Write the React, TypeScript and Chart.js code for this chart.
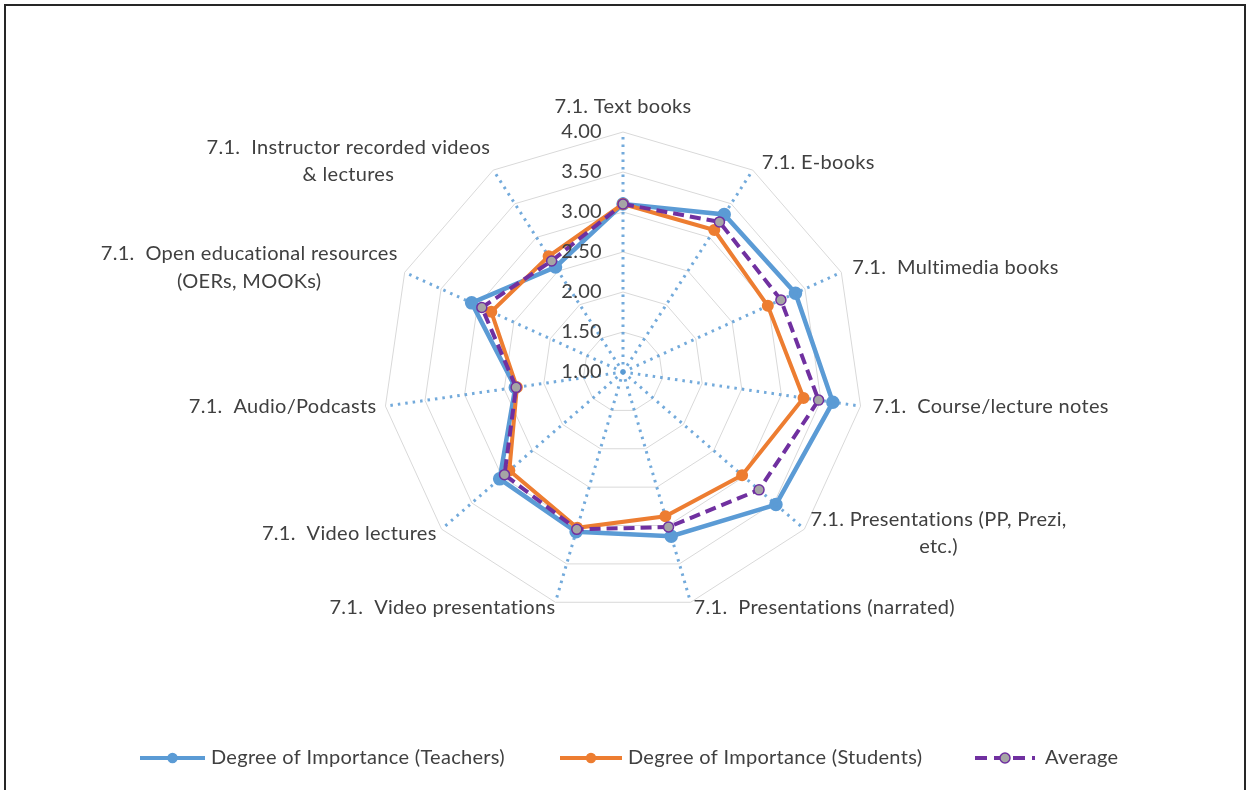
import React, { useEffect, useRef } from "react";
import { Chart, registerables } from "chart.js";

Chart.register(...registerables);

// ---------- data ----------
const categories: string[][] = [
  ["7.1. Text books"],
  ["7.1. E-books"],
  ["7.1.  Multimedia books"],
  ["7.1.  Course/lecture notes"],
  ["7.1. Presentations (PP, Prezi,", "etc.)"],
  ["7.1.  Presentations (narrated)"],
  ["7.1.  Video presentations"],
  ["7.1.  Video lectures"],
  ["7.1.  Audio/Podcasts"],
  ["7.1.  Open educational resources", "(OERs, MOOKs)"],
  ["7.1.  Instructor recorded videos", "& lectures"],
];
const teachers = [3.1, 3.34, 3.37, 3.65, 3.53, 3.14, 3.08, 3.04, 2.36, 3.08, 2.56];
const students = [3.1, 3.11, 2.99, 3.28, 2.97, 2.88, 3.03, 2.88, 2.34, 2.81, 2.72];
const average = [3.1, 3.23, 3.17, 3.47, 3.25, 3.02, 3.05, 2.96, 2.35, 2.94, 2.65];
const tickValues = [1.0, 1.5, 2.0, 2.5, 3.0, 3.5, 4.0];
const seriesNames = [
  "Degree of Importance (Teachers)",
  "Degree of Importance (Students)",
  "Average",
];

// ---------- layout / style ----------
const FONT = "20px Lato, 'Open Sans', sans-serif";
const LETTER_SPACING = "0.3px";
const TEXT = "#404040";
const BLUE = "#5B9BD5";
const ORANGE = "#ED7D31";
const PURPLE = "#7030A0";
const GREY = "#A5A5A5";
// nudges of each category label block relative to its outer vertex: [dx, dy]
const labelNudge: [number, number][] = [
  [0, -25], [9, -8], [11, -5], [12, 0], [6, 4], [3, 5],
  [0, 5], [-5, 4], [-9, 0], [-7, -5], [-3, -9],
];
const LINE_H = 27.5;

const labelsPlugin = {
  id: "customLabels",
  afterDraw(chart: any) {
    const ctx = chart.ctx;
    const scale = chart.scales.r;
    ctx.save();
    ctx.font = FONT;
    (ctx as any).letterSpacing = LETTER_SPACING;
    ctx.fillStyle = TEXT;
    ctx.textBaseline = "middle";
    // tick labels along the first spoke
    tickValues.forEach((v) => {
      const d = scale.getDistanceFromCenterForValue(v);
      const p = scale.getPointPosition(0, d);
      ctx.textAlign = "right";
      ctx.fillText(v.toFixed(2), p.x - 21, p.y);
    });
    // category labels
    const outer = scale.getDistanceFromCenterForValue(scale.max);
    categories.forEach((lines, i) => {
      const p = scale.getPointPosition(i, outer);
      const ang = (i * 2 * Math.PI) / categories.length;
      const s = Math.sin(ang);
      const widths = lines.map((l) => ctx.measureText(l).width);
      const bw = Math.max(...widths);
      let left: number;
      if (Math.abs(s) < 0.1) left = p.x + labelNudge[i][0] - bw / 2;
      else if (s > 0) left = p.x + labelNudge[i][0];
      else left = p.x + labelNudge[i][0] - bw;
      const cy = p.y + labelNudge[i][1];
      const top = cy - ((lines.length - 1) * LINE_H) / 2;
      lines.forEach((l, k) => {
        ctx.textAlign = "center";
        ctx.fillText(l, left + bw / 2, top + k * LINE_H);
      });
    });
    // legend
    const ly = 752;
    const items = [
      { x0: 134, x1: 199, tx: 205, color: BLUE, dash: [] as number[], fill: BLUE, stroke: BLUE, r: 4.5 },
      { x0: 554, x1: 616, tx: 622, color: ORANGE, dash: [] as number[], fill: ORANGE, stroke: ORANGE, r: 4.5 },
      { x0: 969, x1: 1029, tx: 1039, color: PURPLE, dash: [12, 7], fill: GREY, stroke: PURPLE, r: 5 },
    ];
    items.forEach((it, i) => {
      ctx.beginPath();
      ctx.setLineDash(it.dash);
      ctx.strokeStyle = it.color;
      ctx.lineWidth = 4;
      ctx.moveTo(it.x0, ly);
      ctx.lineTo(it.x1, ly);
      ctx.stroke();
      ctx.setLineDash([]);
      ctx.beginPath();
      ctx.arc((it.x0 + it.x1) / 2, ly, it.r, 0, Math.PI * 2);
      ctx.fillStyle = it.fill;
      ctx.fill();
      ctx.lineWidth = 1.5;
      ctx.strokeStyle = it.stroke;
      ctx.stroke();
      ctx.fillStyle = TEXT;
      ctx.textAlign = "left";
      ctx.fillText(seriesNames[i], it.tx, ly);
    });
    ctx.restore();
  },
};

export default function App() {
  const ref = useRef<HTMLCanvasElement>(null);
  useEffect(() => {
    if (!ref.current) return;
    const chart = new Chart(ref.current, {
      type: "radar",
      data: {
        labels: categories.map((c) => c.join(" ")),
        datasets: [
          {
            label: seriesNames[0],
            data: teachers,
            borderColor: BLUE,
            backgroundColor: BLUE,
            borderWidth: 4.5,
            pointRadius: 4.5,
            pointBackgroundColor: BLUE,
            pointBorderColor: BLUE,
            fill: false,
            order: 3,
          },
          {
            label: seriesNames[1],
            data: students,
            borderColor: ORANGE,
            backgroundColor: ORANGE,
            borderWidth: 4,
            pointRadius: 4,
            pointBackgroundColor: ORANGE,
            pointBorderColor: ORANGE,
            fill: false,
            order: 2,
          },
          {
            label: seriesNames[2],
            data: average,
            borderColor: PURPLE,
            backgroundColor: GREY,
            borderWidth: 4,
            borderDash: [11, 6],
            pointRadius: 5,
            pointBorderWidth: 1.5,
            pointBackgroundColor: GREY,
            pointBorderColor: PURPLE,
            fill: false,
            order: 1,
          },
        ],
      },
      options: {
        responsive: false,
        animation: false,
        layout: { padding: { top: 126, bottom: 184, left: 377, right: 381 } },
        elements: { line: { tension: 0 } },
        plugins: { legend: { display: false }, tooltip: { enabled: false } },
        scales: {
          r: {
            min: 1,
            max: 4,
            ticks: { display: false, stepSize: 0.5 },
            pointLabels: { display: false },
            grid: { color: "#D9D9D9", lineWidth: 1 },
            angleLines: {
              color: "rgba(91,155,213,0.85)",
              lineWidth: 3,
              borderDash: [2.5, 5],
            },
          },
        },
      },
      plugins: [labelsPlugin],
    });
    return () => chart.destroy();
  }, []);
  return (
    <div
      style={{
        position: "absolute",
        left: 4,
        top: 4,
        width: 1238,
        height: 800,
        border: "2px solid #262626",
        background: "#fff",
      }}
    >
      <canvas ref={ref} width={1238} height={790} style={{ display: "block" }} />
    </div>
  );
}
